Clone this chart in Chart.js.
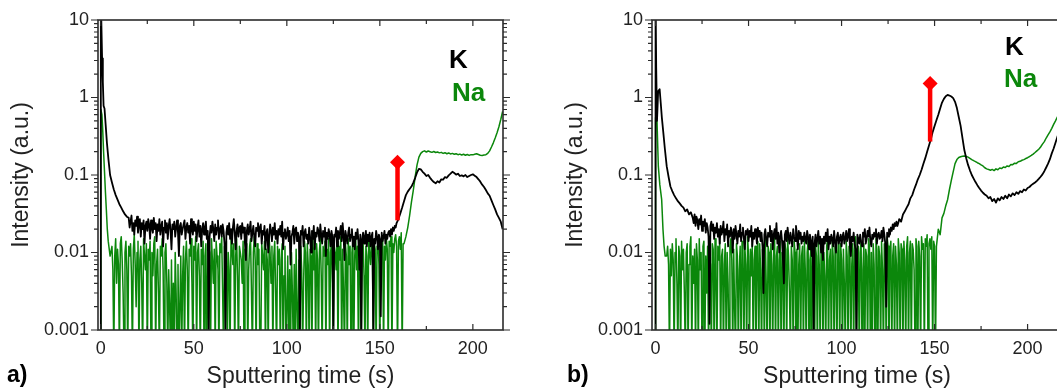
<!DOCTYPE html>
<html><head><meta charset="utf-8">
<script src="https://cdn.jsdelivr.net/npm/chart.js@4.4.1/dist/chart.umd.min.js"></script>
<style>
html,body{margin:0;padding:0;background:#fff;overflow:hidden;width:1057px;height:390px;}
#wrap{position:relative;width:1057px;height:390px;overflow:hidden;background:#fff;}
#ca{position:absolute;left:0;top:0;}
#cb{position:absolute;left:527px;top:0;}
</style></head><body>
<div id="wrap"><canvas id="ca" width="527" height="390"></canvas><canvas id="cb" width="559" height="390"></canvas></div>
<script>
// ---------- DATA ----------
const seriesNames = ['K', 'Na'];
const xTickValues = [0, 50, 100, 150, 200];
const xTickLabels = ['0', '50', '100', '150', '200'];
const yTickValues = [0.001, 0.01, 0.1, 1, 10];
const yTickLabels = ['0.001', '0.01', '0.1', '1', '10'];
const noiseStep = 0.5; // s, sampling of the noisy part of each profile
const tailStep = 1;    // s, sampling of the rising / plateau part

// panel a) K
const aKHeadTime = [0, 0.02, 0.7, 1.1, 1.5, 2.0, 2.6, 3.3, 4.1, 5, 6, 7, 8, 9, 10, 11, 12, 13, 14];
const aKHeadValues = [0.0003, 20, 3.2, 1.6, 0.78, 0.72, 0.45, 0.26, 0.16, 0.1, 0.08, 0.065, 0.055, 0.048, 0.042, 0.038, 0.034, 0.031, 0.029];
const aKNoiseStart = 15;
const aKNoise = [
.028,.021,.025,.030,.019,.024,.017,.026,.022,.029,.018,.023,.027,.016,.024,.020,.026,.013,.022,.025,
.019,.027,.023,.015,.026,.021,.018,.028,.020,.024,.014,.023,.019,.027,.017,.022,.025,.012,.021,.026,
.018,.024,.015,.022,.027,.019,.011,.023,.020,.025,.016,.021,.026,.018,.009,.022,.024,.017,.020,.023,
.026,.015,.021,.024,.018,.022,.013,.027,.020,.017,.025,.019,.023,.014,.021,.026,.016,.022,.012,.020,
.024,.017,.021,.025,.015,.019,.0008,.016,.022,.018,.025,.020,.014,.023,.017,.021,.026,.015,.020,.022,
.016,.023,.019,.013,.0009,.018,.022,.017,.024,.015,.020,.013,.021,.027,.018,.011,.019,.023,.016,.021,
.022,.015,.024,.018,.021,.013,.008,.019,.023,.017,.020,.025,.014,.018,.022,.016,.012,.021,.019,.024,
.016,.021,.023,.013,.019,.017,.022,.011,.018,.020,.010,.016,.023,.019,.014,.021,.017,.024,.015,.019,
.013,.020,.017,.022,.016,.025,.011,.018,.020,.015,.017,.021,.014,.019,.007,.016,.018,.022,.013,.020,
.021,.014,.018,.016,.0008,.019,.017,.022,.012,.018,.020,.015,.017,.013,.021,.016,.010,.019,.015,.022,
.011,.018,.016,.021,.019,.014,.023,.017,.013,.019,.016,.021,.009,.018,.015,.020,.017,.012,.019,.016,
.0009,.017,.016,.021,.012,.019,.015,.018,.022,.014,.024,.017,.008,.019,.016,.013,.018,.021,.014,.017,
.020,.012,.016,.011,.018,.015,.020,.014,.006,.017,.0008,.015,.018,.013,.016,.019,.012,.017,.014,.018,
.012,.016,.018,.0009,.015,.013,.019,.016,.011,.017,.015,.0015,.018,.014,.016,.019,.013,.017,.015,.018,
.019,.016,.020,.017,.021,.019,.022,.021];
const aKTailStart = 159;
const aKTail = [
0.024,0.027,0.032,0.038,0.046,0.055,0.061,0.066,0.071,0.08,
0.092,0.108,0.12,0.118,0.11,0.104,0.097,0.1,0.092,0.086,
0.081,0.078,0.083,0.08,0.088,0.087,0.094,0.092,0.099,0.104,
0.11,0.106,0.101,0.104,0.097,0.099,0.096,0.1,0.094,0.097,
0.1,0.102,0.098,0.094,0.088,0.082,0.075,0.07,0.064,0.058,
0.054,0.047,0.041,0.036,0.031,0.028,0.025,0.02];

// panel a) Na
const aNaHeadTime = [0, 0.02, 0.6, 1.0, 1.5, 2.0, 2.5, 3.0, 3.5, 4.0, 5.0];
const aNaHeadValues = [0.0003, 0.7, 0.6, 0.4, 0.2, 0.11, 0.06, 0.035, 0.02, 0.014, 0.009];
const aNaNoiseStart = 6;
const aNaNoise = [
.012,.006,.0005,.009,.015,.004,.011,.007,.0005,.013,.016,.008,.003,.0005,.010,.014,.006,.0005,.012,.009,
.013,.005,.0005,.011,.017,.007,.002,.010,.014,.0005,.008,.012,.004,.0005,.015,.009,.006,.013,.0005,.011,
.008,.014,.0005,.010,.005,.013,.016,.0005,.007,.011,.003,.0005,.012,.009,.015,.006,.0005,.010,.013,.004,
.0005,.006,.002,.0005,.008,.0005,.004,.0005,.010,.003,.0005,.007,.0005,.002,.009,.0005,.005,.012,.0005,.008,
.014,.006,.0005,.011,.009,.015,.004,.0005,.012,.008,.016,.0005,.010,.013,.005,.0005,.011,.007,.014,.0005,
.009,.013,.0005,.006,.012,.010,.0005,.015,.008,.004,.011,.0005,.014,.009,.006,.0005,.013,.010,.016,.003,
.0005,.012,.008,.014,.0005,.010,.006,.0005,.016,.011,.007,.013,.0005,.009,.015,.005,.0005,.012,.010,.008,
.004,.014,.0005,.011,.009,.013,.0005,.006,.012,.015,.003,.0005,.010,.016,.008,.0005,.013,.007,.011,.0005,
.0005,.013,.009,.006,.014,.0005,.011,.008,.0005,.015,.010,.004,.012,.0005,.009,.014,.003,.0005,.012,.007,
.011,.0005,.008,.013,.0005,.005,.012,.0005,.002,.009,.0005,.006,.0005,.010,.003,.0005,.007,.0005,.011,.002,
.0005,.008,.0005,.012,.006,.0005,.004,.014,.010,.0005,.013,.007,.0005,.011,.009,.0005,.015,.006,.012,.0005,
.013,.008,.0005,.010,.016,.005,.0005,.012,.009,.014,.0005,.011,.007,.015,.0005,.010,.013,.004,.0005,.012,
.010,.006,.014,.0005,.012,.008,.016,.0005,.011,.003,.0005,.013,.009,.0005,.015,.007,.012,.0005,.010,.014,
.0005,.009,.015,.006,.012,.0005,.008,.013,.0005,.011,.014,.005,.0005,.012,.009,.0005,.016,.010,.007,.013,
.009,.0005,.013,.011,.0005,.012,.015,.007,.0005,.014,.010,.016,.0005,.012,.008,.015,.011,.0005,.014,.012,
.016,.0005,.013,.010,.015,.017,.012,.0005,.014,.016,.011,.018,.0005,.013];
const aNaTailStart = 163;
const aNaTail = [
0.013,0.016,0.021,0.03,0.045,0.064,0.095,0.135,0.17,0.19,
0.2,0.205,0.198,0.204,0.2,0.196,0.201,0.195,0.198,0.193,
0.196,0.19,0.194,0.188,0.192,0.187,0.19,0.185,0.188,0.183,
0.186,0.181,0.185,0.18,0.184,0.179,0.183,0.182,0.185,0.188,
0.184,0.18,0.179,0.181,0.183,0.19,0.205,0.23,0.26,0.3,
0.35,0.42,0.52,0.66];

// panel b) K
const bKHeadTime = [0, 0.02, 0.35, 0.8, 1.4, 2.2, 2.8, 3.4, 4.2, 5, 6, 7, 8, 9, 10, 11, 12, 13, 14, 15, 16, 17, 18, 19];
const bKHeadValues = [0.0003, 20, 2.5, 0.5, 1.2, 1.28, 0.85, 0.55, 0.35, 0.22, 0.13, 0.095, 0.071, 0.062, 0.055, 0.05, 0.046, 0.043, 0.04, 0.038, 0.034, 0.036, 0.031, 0.033];
const bKNoiseStart = 20;
const bKNoise = [
.028,.024,.031,.022,.029,.026,.020,.027,.023,.030,.019,.025,.022,.027,.018,.024,.021,.016,.0012,.022,
.025,.019,.023,.015,.021,.018,.024,.016,.020,.013,.022,.017,.019,.025,.014,.020,.017,.023,.012,.019,
.016,.021,.018,.010,.020,.015,.022,.017,.013,.019,.016,.023,.014,.018,.021,.015,.011,.019,.017,.020,
.014,.019,.016,.022,.012,.018,.015,.020,.017,.013,.021,.016,.019,.014,.018,.012,.003,.017,.020,.015,
.012,.018,.016,.022,.014,.019,.011,.017,.020,.015,.024,.013,.018,.010,.016,.019,.014,.008,.004,.017,
.019,.014,.021,.016,.013,.018,.015,.012,.020,.016,.014,.022,.017,.011,.019,.015,.018,.013,.016,.014,
.018,.015,.013,.019,.016,.011,.017,.014,.009,.016,.0008,.013,.017,.012,.015,.019,.013,.016,.010,.015,
.008,.016,.013,.018,.014,.020,.011,.016,.013,.017,.015,.012,.019,.014,.010,.016,.018,.013,.015,.017,
.012,.016,.018,.013,.015,.019,.014,.017,.020,.012,.009,.016,.014,.018,.013,.011,.0008,.017,.015,.013,
.017,.014,.012,.018,.016,.020,.013,.015,.019,.016,.021,.014,.012,.017,.015,.018,.016,.020,.013,.017,
.018,.015,.016,.019,.014,.021,.017,.013,.002,.018,.016,.020,.017,.021,.019,.023,.020,.024,.022,.025,
.022,.024];
const bKTailStart = 131;
const bKTail = [
0.027,0.025,0.031,0.034,0.038,0.042,0.05,0.055,0.065,0.075,
0.088,0.1,0.117,0.14,0.165,0.2,0.24,0.29,0.36,0.43,
0.51,0.6,0.72,0.86,0.96,1.04,1.08,1.06,1.03,0.98,
0.88,0.73,0.56,0.43,0.3,0.21,0.165,0.135,0.115,0.1,
0.09,0.081,0.074,0.068,0.063,0.059,0.056,0.054,0.05,0.052,
0.046,0.049,0.044,0.05,0.047,0.052,0.049,0.054,0.05,0.056,
0.053,0.058,0.055,0.06,0.057,0.062,0.06,0.065,0.063,0.068,
0.07,0.074,0.077,0.08,0.084,0.089,0.095,0.102,0.112,0.125,
0.14,0.16,0.19,0.22,0.26,0.31,0.37,0.44];

// panel b) Na
const bNaHeadTime = [0, 0.02, 0.8, 1.5, 2.3, 3.3, 4.0, 4.6, 5.2];
const bNaHeadValues = [0.0003, 0.55, 0.49, 0.13, 0.075, 0.048, 0.02, 0.012, 0.009];
const bNaNoiseStart = 6;
const bNaNoise = [
.009,.012,.007,.0005,.011,.005,.013,.008,.0005,.010,.015,.004,.0005,.012,.009,.0005,.014,.006,.011,.003,
.0005,.010,.013,.0005,.007,.012,.016,.0005,.009,.004,.011,.0005,.013,.008,.0005,.015,.006,.010,.0005,.012,
.014,.0005,.009,.003,.012,.0005,.010,.007,.0005,.013,.011,.0005,.015,.005,.0005,.012,.008,.014,.0005,.009,
.011,.0005,.007,.013,.0005,.010,.004,.0005,.012,.015,.008,.0005,.011,.002,.0005,.013,.009,.0005,.006,.012,
.0005,.014,.010,.0005,.012,.007,.0005,.016,.009,.0005,.011,.005,.013,.0005,.008,.012,.0005,.010,.014,.0005,
.013,.006,.0005,.011,.009,.0005,.015,.004,.0005,.012,.010,.0005,.013,.007,.0005,.011,.016,.0005,.009,.012,
.0005,.008,.014,.0005,.010,.006,.0005,.013,.011,.0005,.015,.009,.003,.0005,.012,.008,.0005,.014,.010,.0005,
.011,.0005,.007,.013,.0005,.009,.012,.0005,.015,.006,.0005,.010,.014,.0005,.008,.011,.0005,.013,.004,.0005,
.012,.009,.0005,.014,.007,.0005,.011,.013,.0005,.010,.005,.0005,.012,.015,.0005,.008,.011,.0005,.014,.009,
.0005,.012,.006,.0005,.010,.015,.0005,.013,.008,.0005,.011,.004,.0005,.014,.009,.0005,.012,.010,.0005,.007,
.013,.0005,.011,.016,.0005,.008,.012,.0005,.010,.014,.0005,.006,.013,.0005,.011,.009,.0005,.015,.012,.0005,
.010,.0005,.013,.007,.0005,.015,.011,.0005,.012,.009,.0005,.014,.006,.0005,.013,.010,.0005,.016,.012,.0005,
.011,.014,.0005,.009,.013,.0005,.012,.007,.0005,.015,.010,.0005,.013,.011,.0005,.014,.008,.0005,.012,.016,
.0005,.010,.014,.0005,.013,.011,.006,.0005,.015,.012,.0005,.014,.009,.0005,.016,.011,.013,.0005,.015,.012,
.017,.0005,.013,.015,.011,.016,.0005,.014,.012,.0005];
const bNaTailStart = 151;
const bNaTail = [
0.012,0.02,0.017,0.028,0.032,0.04,0.048,0.065,0.085,0.11,
0.14,0.158,0.168,0.172,0.175,0.176,0.174,0.17,0.164,0.158,
0.153,0.149,0.144,0.14,0.135,0.131,0.124,0.12,0.118,0.115,
0.118,0.114,0.12,0.117,0.123,0.121,0.127,0.125,0.131,0.129,
0.137,0.136,0.142,0.141,0.148,0.15,0.155,0.158,0.163,0.167,
0.173,0.179,0.186,0.195,0.205,0.215,0.23,0.25,0.27,0.3,
0.33,0.36,0.4,0.45,0.5,0.56,0.62,0.7];

// red markers (time, bottom of stem, diamond head)
const markerTimes = [159.5, 147.6];
const markerLow = [0.026, 0.27];
const markerHigh = [0.146, 1.52];

// ---------- RENDER ----------
const FONT = '"Liberation Sans", Arial, Helvetica, sans-serif';
const GREEN = '#0b870b';
const TEXT = '#222';

function buildSeries(headT, headV, nStart, nVals, tStart, tVals) {
  const pts = headT.map((t, i) => ({ x: t, y: headV[i] }));
  nVals.forEach((v, i) => pts.push({ x: nStart + i * noiseStep, y: v }));
  tVals.forEach((v, i) => pts.push({ x: tStart + i * tailStep, y: v }));
  return pts;
}

const decor = {
  id: 'decor',
  afterDatasetsDraw(chart, args, o) {
    const { ctx, chartArea: A, scales: { x, y } } = chart;
    ctx.save();
    ctx.strokeStyle = '#2b2b2b';
    ctx.lineWidth = 1.6;
    ctx.strokeRect(A.left, A.top, A.right - A.left, A.bottom - A.top);
    ctx.lineWidth = 1.2;
    ctx.beginPath();
    for (let e = -3; e <= 1; e++) {
      const base = Math.pow(10, e);
      const py = y.getPixelForValue(base);
      ctx.moveTo(A.left - 7, py); ctx.lineTo(A.left, py);
      ctx.moveTo(A.right, py); ctx.lineTo(A.right + 7, py);
      if (e < 1) {
        for (let m = 2; m <= 9; m++) {
          const p = y.getPixelForValue(m * base);
          ctx.moveTo(A.left - 4, p); ctx.lineTo(A.left, p);
          ctx.moveTo(A.right, p); ctx.lineTo(A.right + 4, p);
        }
      }
    }
    for (let t = 0; t <= x.max; t += 25) {
      const px = x.getPixelForValue(t);
      const len = (t % 50 === 0) ? 6 : 4;
      ctx.moveTo(px, A.top); ctx.lineTo(px, A.top + len);
      ctx.moveTo(px, A.bottom); ctx.lineTo(px, A.bottom - len);
    }
    ctx.stroke();
    ctx.textBaseline = 'alphabetic';
    ctx.textAlign = 'left';
    ctx.font = 'bold 26px ' + FONT;
    ctx.fillStyle = '#000';
    ctx.fillText(seriesNames[0], o.kx, o.ky);
    ctx.fillStyle = GREEN;
    ctx.fillText(seriesNames[1], o.nax, o.nay);
    ctx.font = 'bold 23px ' + FONT;
    ctx.fillStyle = '#000';
    ctx.fillText(o.panel, o.px, o.py);
    ctx.restore();
  }
};

function makeChart(id, k, na, mi, xmin, xmax, padLeft, deco) {
  return new Chart(document.getElementById(id), {
    type: 'line',
    data: {
      datasets: [
        {
          data: [{ x: markerTimes[mi], y: markerLow[mi] }, { x: markerTimes[mi], y: markerHigh[mi] }],
          borderColor: '#ff0000', backgroundColor: '#ff0000', borderWidth: 4.5,
          pointRadius: [0, 7.5], pointStyle: 'rectRot', pointBackgroundColor: '#ff0000',
          pointBorderWidth: 0, pointHoverRadius: 0
        },
        { label: seriesNames[0], data: k, borderColor: '#000', borderWidth: 1.8, pointRadius: 0, tension: 0, borderJoinStyle: 'round' },
        { label: seriesNames[1], data: na, borderColor: GREEN, borderWidth: 1.5, pointRadius: 0, tension: 0, borderJoinStyle: 'round' }
      ]
    },
    options: {
      responsive: false, animation: false, devicePixelRatio: 1,
      events: [],
      layout: { padding: { left: padLeft, right: 24, top: 20, bottom: 0 } },
      plugins: { legend: { display: false }, tooltip: { enabled: false }, decor: deco },
      scales: {
        x: {
          type: 'linear', min: xmin, max: xmax,
          grid: { display: false, drawTicks: false }, border: { display: false },
          afterBuildTicks: s => { s.ticks = xTickValues.map(v => ({ value: v })); },
          afterFit: s => { s.height = 60; },
          ticks: { autoSkip: false, maxRotation: 0, padding: 8, color: TEXT,
                   font: { family: FONT, size: 18 }, callback: (v, i) => xTickLabels[i] },
          title: { display: true, text: 'Sputtering time (s)', color: TEXT,
                   font: { family: FONT, size: 23 }, padding: { top: 0, bottom: 0 } }
        },
        y: {
          type: 'logarithmic', min: 0.001, max: 10,
          grid: { display: false, drawTicks: false }, border: { display: false },
          afterBuildTicks: s => { s.ticks = yTickValues.map(v => ({ value: v })); },
          afterFit: s => { s.width = 98; },
          ticks: { autoSkip: false, padding: 9, color: TEXT,
                   font: { family: FONT, size: 18 }, callback: (v, i) => yTickLabels[i] },
          title: { display: true, text: 'Intensity (a.u.)', color: TEXT,
                   font: { family: FONT, size: 23 }, padding: { top: 8, bottom: 0 } }
        }
      }
    },
    plugins: [decor]
  });
}

makeChart('ca',
  buildSeries(aKHeadTime, aKHeadValues, aKNoiseStart, aKNoise, aKTailStart, aKTail),
  buildSeries(aNaHeadTime, aNaHeadValues, aNaNoiseStart, aNaNoise, aNaTailStart, aNaTail),
  0, -1.5, 216.2, 0,
  { kx: 449, ky: 68, nax: 452, nay: 101, panel: 'a)', px: 7, py: 382 });

makeChart('cb',
  buildSeries(bKHeadTime, bKHeadValues, bKNoiseStart, bKNoise, bKTailStart, bKTail),
  buildSeries(bNaHeadTime, bNaHeadValues, bNaNoiseStart, bNaNoise, bNaTailStart, bNaTail),
  1, -1.9, 218.5, 27,
  { kx: 478, ky: 55, nax: 477, nay: 87, panel: 'b)', px: 40, py: 382 });
</script>
</body></html>
